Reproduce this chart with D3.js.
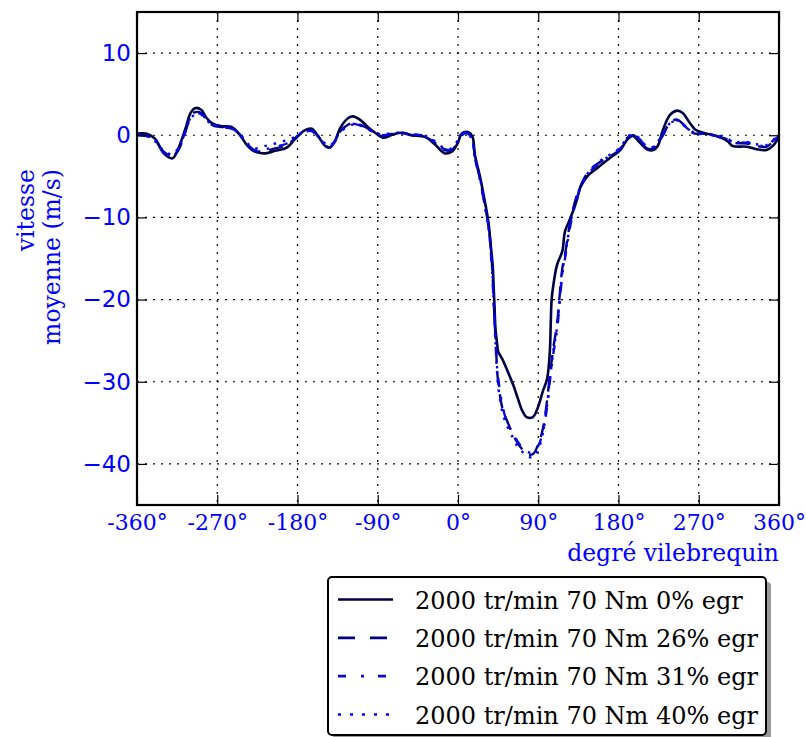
<!DOCTYPE html>
<html>
<head>
<meta charset="utf-8">
<script src="https://cdn.jsdelivr.net/npm/d3@7/dist/d3.min.js"></script>
<style>
  html, body { margin: 0; padding: 0; background: #ffffff; }
  svg { display: block; }
</style>
</head>
<body>
<svg id="chart" width="806" height="737"></svg>
<script>
// Crank angle grid (degrees)
const crankAngle = [-360,-350,-340,-330,-320,-314,-306,-300,-295,-288,-282,-275,-265,-254,-245,-236,-228,-216,-205,-192,-183,-172,-164,-157,-149,-144,-138,-132,-123,-118,-110,-102,-93,-84,-73,-63,-52,-37,-26,-15,-7,0,4,11,16,19,25,30,34,37,39,40,41,42,44,45,50,56,62,67,72,77,84,90,95,100,103,104,105,107,111,117,120,126,133,137,145,156,170,182,190,196,204,212,219,224,230,238,246,252,260,266,275,290,302,308,324,335,346,353,360];

// Mean velocity (m/s) for each EGR rate
const egr0 = [0.2,0.2,-0.4,-2.2,-2.8,-1.7,0.7,2.7,3.3,3.1,2.1,1.4,1.1,1.0,0.1,-1.3,-2.0,-2.2,-1.9,-1.5,-0.5,0.6,0.8,-0.1,-1.3,-1.5,-0.7,0.9,2.1,2.3,1.9,1.1,0.3,-0.3,0.1,0.3,0.0,-0.2,-1.1,-2.2,-2.0,-0.9,0.2,0.4,-0.1,-2.4,-5.2,-8.0,-10.5,-13.7,-16.0,-18.5,-21.0,-23.5,-25.5,-26.3,-27.3,-28.8,-30.4,-32.0,-33.5,-34.3,-34.3,-33.0,-31.2,-29.6,-26.3,-23.0,-20.0,-18.2,-15.8,-14.1,-11.7,-10.1,-8.0,-6.4,-5.0,-4.0,-2.8,-1.8,-0.5,-0.1,-0.9,-1.7,-1.8,-1.3,0.7,2.5,3.0,2.7,1.5,0.7,0.3,-0.1,-0.7,-1.3,-1.4,-1.7,-1.8,-1.3,-0.2];

const egr26 = [0.1,0.0,-0.6,-2.0,-2.5,-1.9,0.3,2.2,2.8,2.7,1.9,1.2,1.0,0.9,0.1,-1.2,-1.9,-1.9,-1.6,-1.2,-0.4,0.5,0.6,-0.1,-1.2,-1.5,-0.8,0.5,1.3,1.5,1.3,0.9,0.2,-0.1,0.2,0.3,0.0,-0.2,-0.9,-1.8,-1.8,-0.7,0.1,0.3,-0.5,-2.6,-5.5,-8.5,-10.8,-14.0,-17.5,-20.0,-22.5,-24.5,-28.8,-30.0,-33.3,-35.0,-36.5,-37.5,-38.2,-38.8,-38.8,-37.6,-35.8,-32.2,-29.2,-28.5,-27.5,-25.8,-23.0,-16.2,-14.5,-10.5,-7.4,-6.3,-4.6,-3.5,-2.6,-1.7,-0.3,0.0,-0.6,-1.6,-1.6,-1.0,0.0,1.6,1.9,1.4,0.5,0.2,0.2,-0.1,-0.5,-0.9,-1.0,-1.3,-1.4,-0.8,-0.1];

const egr31 = [0.0,-0.1,-0.7,-2.1,-2.4,-1.8,0.4,2.1,2.6,2.6,2.0,1.3,1.0,0.8,0.0,-1.1,-1.8,-1.7,-1.4,-1.0,-0.3,0.4,0.5,-0.2,-1.1,-1.4,-0.7,0.4,1.2,1.4,1.2,0.8,0.3,0.0,0.2,0.2,0.1,-0.1,-0.8,-1.7,-1.7,-0.6,0.1,0.2,-0.6,-2.8,-5.6,-8.6,-11.0,-14.5,-18.0,-20.5,-23.0,-25.0,-28.5,-29.5,-33.0,-35.2,-36.3,-37.3,-38.0,-38.5,-38.6,-37.8,-36.2,-33.0,-30.0,-29.0,-28.2,-26.5,-23.8,-17.0,-15.0,-11.0,-7.8,-6.5,-4.8,-3.6,-2.5,-1.6,-0.4,0.1,-0.5,-1.5,-1.5,-0.9,0.1,1.5,1.7,1.3,0.6,0.3,0.1,-0.1,-0.4,-0.8,-0.9,-1.2,-1.3,-0.7,-0.1];

const egr40 = [0.1,-0.1,-0.5,-1.9,-2.3,-1.6,0.5,2.0,2.5,2.5,1.8,1.3,1.1,0.8,0.2,-1.0,-1.6,-1.3,-1.0,-0.6,-0.2,0.5,0.5,-0.1,-1.0,-1.3,-0.6,0.4,1.1,1.3,1.2,0.8,0.3,0.1,0.3,0.3,0.1,-0.1,-0.7,-1.6,-1.6,-0.6,0.0,0.2,-0.6,-2.7,-5.4,-8.4,-11.0,-14.0,-17.5,-20.0,-22.8,-25.0,-29.2,-30.5,-33.8,-35.6,-36.9,-37.9,-38.5,-39.0,-39.2,-38.2,-36.4,-32.8,-29.6,-28.8,-27.9,-26.2,-23.4,-16.6,-14.7,-10.8,-7.6,-6.4,-4.7,-3.4,-2.4,-1.5,-0.2,0.1,-0.4,-1.4,-1.4,-0.8,0.2,1.5,1.8,1.4,0.6,0.3,0.2,0.0,-0.4,-0.8,-0.8,-1.1,-1.2,-0.6,0.0];

const seriesNames = ["2000 tr/min 70 Nm 0% egr", "2000 tr/min 70 Nm 26% egr", "2000 tr/min 70 Nm 31% egr", "2000 tr/min 70 Nm 40% egr"];
const seriesValues = [egr0, egr26, egr31, egr40];
const seriesColors = ["#000040", "#000088", "#0a0ad0", "#0000ff"];
const seriesDash = [null, "14,9", "9,10,2.5,10", "2.5,7"];

const xTicks = [-360, -270, -180, -90, 0, 90, 180, 270, 360];
const yTicks = [-40, -30, -20, -10, 0, 10];

const svg = d3.select("#chart");
const margin = { left: 137, right: 27, top: 12, bottom: 232 };
const W = 806 - margin.left - margin.right;
const H = 737 - margin.top - margin.bottom;

const x = d3.scaleLinear().domain([-360, 360]).range([0, W]);
const y = d3.scaleLinear().domain([-45, 15]).range([H, 0]);

const g = svg.append("g").attr("transform", `translate(${margin.left},${margin.top})`);

// dotted grid
g.append("g").selectAll("line").data(xTicks.slice(1, -1)).join("line")
  .attr("x1", d => x(d)).attr("x2", d => x(d)).attr("y1", 0).attr("y2", H)
  .attr("stroke", "#000").attr("stroke-width", 1.2).attr("stroke-dasharray", "2,6");
g.append("g").selectAll("line").data(yTicks).join("line")
  .attr("x1", 0).attr("x2", W).attr("y1", d => y(d)).attr("y2", d => y(d))
  .attr("stroke", "#000").attr("stroke-width", 1.2).attr("stroke-dasharray", "2,6");

// curves
const clip = svg.append("defs").append("clipPath").attr("id", "plotClip");
clip.append("rect").attr("x", 0).attr("y", 0).attr("width", W).attr("height", H);

const line = d3.line()
  .x((d, i) => x(crankAngle[i]))
  .y(d => y(d))
  .curve(d3.curveCatmullRom.alpha(0.5));

const curves = g.append("g").attr("clip-path", "url(#plotClip)");
seriesValues.forEach((vals, k) => {
  curves.append("path")
    .datum(vals)
    .attr("d", line)
    .attr("fill", "none")
    .attr("stroke", seriesColors[k])
    .attr("stroke-width", k === 0 ? 2.6 : 2.4)
    .attr("stroke-dasharray", seriesDash[k])
    .attr("stroke-linejoin", "round");
});

// axes with inward ticks
const tickFontSerif = "'DejaVu Serif', serif";
const xAxis = d3.axisBottom(x).tickValues(xTicks).tickSizeInner(-10).tickSizeOuter(0).tickPadding(9)
  .tickFormat(d => `${d}°`);
const gx = g.append("g").attr("transform", `translate(0,${H})`).call(xAxis);
gx.select(".domain").remove();
gx.selectAll(".tick line").attr("stroke", "#000").attr("stroke-width", 1.2);
gx.selectAll(".tick text").attr("fill", "#0000ff").attr("font-family", tickFontSerif).attr("font-size", 22);

const yAxis = d3.axisLeft(y).tickValues(yTicks).tickSizeInner(-10).tickSizeOuter(0).tickPadding(6);
const gy = g.append("g").call(yAxis);
gy.select(".domain").remove();
gy.selectAll(".tick line").attr("stroke", "#000").attr("stroke-width", 1.2);
gy.selectAll(".tick text").attr("fill", "#0000ff").attr("font-family", "'DejaVu Sans', sans-serif").attr("font-size", 23);

const gr = g.append("g").attr("transform", `translate(${W},0)`)
  .call(d3.axisRight(y).tickValues(yTicks).tickSizeInner(-10).tickSizeOuter(0).tickFormat(""));
gr.select(".domain").remove();
gr.selectAll(".tick line").attr("stroke", "#000").attr("stroke-width", 1.2);

const gt = g.append("g")
  .call(d3.axisTop(x).tickValues(xTicks).tickSizeInner(-10).tickSizeOuter(0).tickFormat(""));
gt.select(".domain").remove();
gt.selectAll(".tick line").attr("stroke", "#000").attr("stroke-width", 1.2);

// frame
g.append("rect").attr("x", 0).attr("y", 0).attr("width", W).attr("height", H)
  .attr("fill", "none").attr("stroke", "#000").attr("stroke-width", 2.2);

// axis labels
const labelFont = "'DejaVu Serif', serif";
svg.append("text")
  .attr("x", margin.left + W).attr("y", 561)
  .attr("text-anchor", "end")
  .attr("font-family", labelFont).attr("font-size", 23.5).attr("fill", "#0000ff")
  .text("degré vilebrequin");

[["vitesse", 34], ["moyenne (m/s)", 60]].forEach(([t, bx]) => {
  svg.append("text")
    .attr("transform", `translate(${bx},169) rotate(-90)`)
    .attr("text-anchor", "end")
    .attr("font-family", labelFont).attr("font-size", 23.5).attr("fill", "#0000ff")
    .text(t);
});

// legend
const lg = svg.append("g").attr("transform", "translate(328,577)");
const lgW = 438, lgH = 158;
lg.append("rect").attr("x", 5).attr("y", 5).attr("width", lgW).attr("height", lgH)
  .attr("rx", 4).attr("fill", "#9a9a9a");
lg.append("rect").attr("x", 0).attr("y", 0).attr("width", lgW).attr("height", lgH)
  .attr("rx", 4).attr("fill", "#fff").attr("stroke", "#000").attr("stroke-width", 2);
const rowY = d3.scalePoint().domain(seriesNames).range([22.5, 137.5]);
seriesNames.forEach((name, k) => {
  const yy = rowY(name);
  lg.append("line").attr("x1", 10).attr("x2", 65).attr("y1", yy).attr("y2", yy)
    .attr("stroke", seriesColors[k]).attr("stroke-width", k === 0 ? 2.6 : 2.6)
    .attr("stroke-dasharray", k === 1 ? "17,15" : k === 2 ? "8,15,3,14" : k === 3 ? "3,9" : null);
  lg.append("text").attr("x", 87).attr("y", yy + 9)
    .attr("font-family", labelFont).attr("font-size", 24).attr("fill", "#000")
    .text(name);
});
</script>
</body>
</html>
